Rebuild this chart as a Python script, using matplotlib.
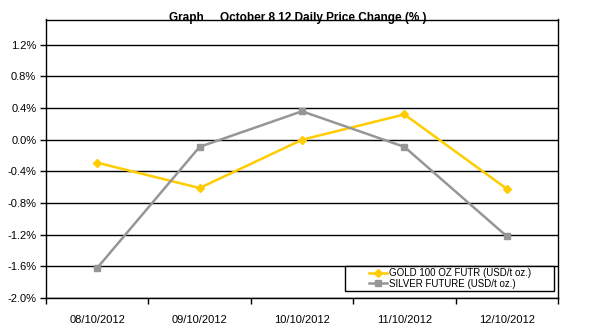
import numpy as np
import matplotlib
matplotlib.use('Agg')
import matplotlib.pyplot as plt
from matplotlib.ticker import FixedLocator
from matplotlib.patches import Rectangle

plt.rcParams['font.family'] = ['Liberation Sans', 'DejaVu Sans']

# dane
dates = ['08/10/2012', '09/10/2012', '10/10/2012', '11/10/2012', '12/10/2012']
gold = [-0.29, -0.61, 0.0, 0.32, -0.62]
silver = [-1.62, -0.09, 0.36, -0.09, -1.22]
y_ticks = [-2.0, -1.6, -1.2, -0.8, -0.4, 0.0, 0.4, 0.8, 1.2]

fig = plt.figure(figsize=(6.13, 3.30), dpi=100)
ax = fig.add_axes([46/613, 1-298/330, (558-46)/613, (298-19.5)/330])

x = np.arange(len(dates))
ax.plot(x, gold, color='#FFCC00', linewidth=1.8, marker='D', markersize=4.5,
        label='GOLD 100 OZ FUTR (USD/t oz.)', zorder=3)
ax.plot(x, silver, color='#969696', linewidth=1.8, marker='s', markersize=4,
        label='SILVER FUTURE (USD/t oz.)', zorder=3)

ax.set_xlim(-0.5, len(dates) - 0.5)
ax.set_ylim(-2.0, 1.52)
ax.set_yticks(y_ticks)
ax.set_yticklabels([f'{v:.1f}%' for v in y_ticks], fontsize=8)
ax.set_xticks(x)
ax.set_xticklabels(dates, fontsize=8)
ax.xaxis.set_minor_locator(FixedLocator(np.arange(-0.5, len(dates), 1.0)))
ax.tick_params(axis='x', which='major', length=0, pad=12)
ax.tick_params(axis='x', which='minor', length=4, width=1, direction='out')
ax.tick_params(axis='y', length=4, width=1, direction='out', pad=3)
ax.grid(axis='y', color='black', linewidth=1)
ax.set_axisbelow(True)
for s in ax.spines.values():
    s.set_color('black')
    s.set_linewidth(1)

fig.text(298/613, 1-18/330, 'Graph     October 8 12 Daily Price Change (% )',
         ha='center', va='center', fontsize=8.5, fontweight='bold', zorder=5)

# ramka legendy
fig.patches.append(Rectangle((345/613, 1-291/330), (554-345)/613, (291-266)/330,
                             transform=fig.transFigure, facecolor='white',
                             edgecolor='black', linewidth=1, zorder=4))
leg = fig.legend(loc='center', bbox_to_anchor=(450/613, 1-278.5/330),
                 fontsize=7, frameon=False, handlelength=1.9, handletextpad=0.15,
                 borderpad=0, labelspacing=0.05)
leg.set_zorder(5)

fig.savefig('out.png', dpi=100)
